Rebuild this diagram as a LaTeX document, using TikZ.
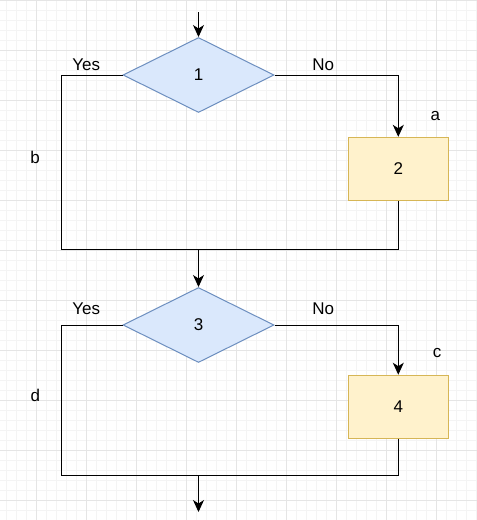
\documentclass[tikz,border=0pt]{standalone}
\usepackage{fontspec}
\setmainfont{Liberation Sans}
\usetikzlibrary{shapes.geometric,arrows.meta}
\begin{document}
\begin{tikzpicture}[x=1pt,y=-1pt,
  decision/.style={diamond,draw=diaStroke,fill=diaFill,line width=1pt,
    minimum width=151pt,minimum height=75pt,inner sep=0pt,aspect=2,
    font=\fontsize{17}{20}\selectfont},
  process/.style={rectangle,draw=boxStroke,fill=boxFill,line width=1pt,
    minimum width=100pt,minimum height=63pt,inner sep=0pt,
    font=\fontsize{17}{20}\selectfont},
  conn/.style={line width=1pt,black},
  arr/.style={conn,-{Stealth[length=12pt,width=11pt,inset=3.5pt]}},
  lbl/.style={anchor=base,inner sep=0pt,font=\fontsize{17}{20}\selectfont},
  minorgrid/.style={draw=gridMinor,line width=1pt},
  majorgrid/.style={draw=gridMajor,line width=1pt}]
\definecolor{diaStroke}{HTML}{6C8EBF}
\definecolor{diaFill}{HTML}{DAE8FC}
\definecolor{boxStroke}{HTML}{D6B656}
\definecolor{boxFill}{HTML}{FFF2CC}
\definecolor{gridMinor}{HTML}{F4F4F4}
\definecolor{gridMajor}{HTML}{E5E5E5}
\useasboundingbox (0,0) rectangle (477,520);
\fill[white] (0,0) rectangle (477,520);
% grid
\foreach \gx in {6,16,...,476} \draw[minorgrid] (\gx,0) -- (\gx,520);
\foreach \gy in {0,10,...,520} \draw[minorgrid] (0,\gy) -- (477,\gy);
\foreach \gx in {36,86,...,436} \draw[majorgrid] (\gx,0) -- (\gx,520);
\foreach \gy in {0,50,...,500} \draw[majorgrid] (0,\gy) -- (477,\gy);
% nodes
\node[decision] (d1) at (198.5,75) {1};
\node[process] (b2) at (398.3,168.8) {2};
\node[decision] (d3) at (198.5,325) {3};
\node[process] (b4) at (398.3,406.7) {4};
\coordinate (start) at (198.5,12);
\coordinate (y1) at (61,75);
\coordinate (m1) at (198.5,249);
\coordinate (y3) at (61,325);
\coordinate (m2) at (198.5,475);
\coordinate (finish) at (198.5,512);
% connectors
\draw[arr] (start) -- (d1.north);
\draw[conn] (d1.west) -- (y1) |- (m1);
\draw[arr] (d1.east) -| (b2.north);
\draw[conn] (b2.south) |- (m1);
\draw[arr] (m1) -- (d3.north);
\draw[conn] (d3.west) -- (y3) |- (m2);
\draw[arr] (d3.east) -| (b4.north);
\draw[conn] (b4.south) |- (m2);
\draw[arr] (m2) -- (finish);
% labels
\node[lbl] (l1) at (86.3,70) {Yes};
\node[lbl] (l2) at (323.3,70) {No};
\node[lbl] (l3) at (435.3,120) {a};
\node[lbl] (l4) at (35.2,163) {b};
\node[lbl] (l5) at (86.3,314) {Yes};
\node[lbl] (l6) at (323.3,314) {No};
\node[lbl] (l7) at (437,357) {c};
\node[lbl] (l8) at (35.3,401.5) {d};
\end{tikzpicture}
\end{document}
